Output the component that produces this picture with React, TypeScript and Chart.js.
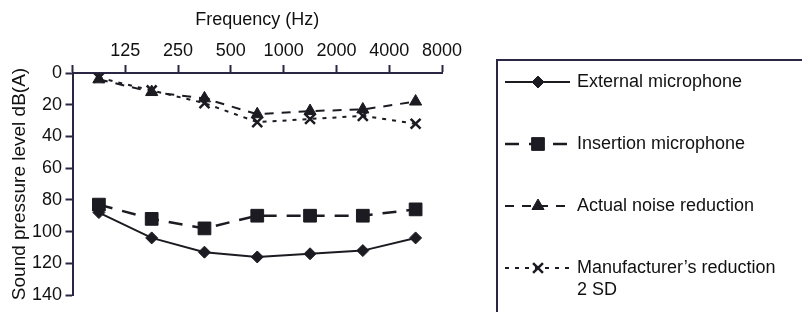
import React, { useEffect, useRef } from "react";
import { Chart, registerables } from "chart.js";
import { drawPoint } from "chart.js/helpers";

Chart.register(...registerables);

// ---- data ----
const xTickLabels = ["", "125", "250", "500", "1000", "2000", "4000", "8000"];
const seriesLabels = [
  ["External microphone"],
  ["Insertion microphone"],
  ["Actual noise reduction"],
  ["Manufacturer’s reduction", "2 SD"],
];
const externalMic = [88, 104, 113, 116, 114, 112, 104];
const insertionMic = [83, 92, 98, 90, 90, 90, 86];
const actualReduction = [4, 12, 16, 26, 24, 23, 18];
const manufacturerReduction = [3, 11, 19, 31, 29, 27, 32];
const yTicks = [0, 20, 40, 60, 80, 100, 120, 140];

const AXIS = "#2a2745";
const INK = "#1c1b22";
const FONT = '"Liberation Sans", Arial, Helvetica, sans-serif';

const toPoints = (arr: number[]) => arr.map((v, i) => ({ x: i + 0.5, y: v }));

const legendPlugin = {
  id: "boxLegend",
  afterDraw(chart: any) {
    const ctx = chart.ctx as CanvasRenderingContext2D;
    ctx.save();
    ctx.strokeStyle = AXIS;
    ctx.lineWidth = 2;
    ctx.beginPath();
    ctx.moveTo(497, 320);
    ctx.lineTo(497, 60);
    ctx.lineTo(810, 60);
    ctx.stroke();

    chart.data.datasets.forEach((ds: any, i: number) => {
      const y = 82 + i * 62;
      ctx.strokeStyle = ds.borderColor;
      ctx.fillStyle = ds.pointBackgroundColor;
      ctx.lineWidth = ds.borderWidth;
      ctx.setLineDash(ds.borderDash || []);
      ctx.beginPath();
      ctx.moveTo(505, y);
      ctx.lineTo(570, y);
      ctx.stroke();
      ctx.setLineDash([]);
      ctx.lineWidth = ds.pointBorderWidth;
      drawPoint(
        ctx,
        {
          pointStyle: ds.pointStyle,
          radius: ds.pointRadius,
          rotation: 0,
          borderWidth: ds.pointBorderWidth,
        } as any,
        538,
        y
      );
      ctx.fillStyle = "#111";
      ctx.font = `18px ${FONT}`;
      ctx.textBaseline = "middle";
      ctx.textAlign = "left";
      seriesLabels[i].forEach((line, j) => {
        ctx.fillText(line, 577, y + j * 22);
      });
    });
    ctx.restore();
  },
};

export default function App() {
  const ref = useRef<HTMLCanvasElement | null>(null);

  useEffect(() => {
    document.body.style.margin = "0";
    document.body.style.background = "#ffffff";
    if (!ref.current) return;
    Chart.defaults.font.family = FONT;
    Chart.defaults.color = "#111";

    const common = {
      borderColor: INK,
      pointBackgroundColor: INK,
      pointBorderColor: INK,
      tension: 0,
      fill: false,
    };

    const chart = new Chart(ref.current, {
      type: "line",
      data: {
        datasets: [
          {
            ...common,
            label: seriesLabels[0].join(" "),
            data: toPoints(externalMic),
            borderWidth: 2,
            pointStyle: "rectRot",
            pointRadius: 6,
            pointBorderWidth: 1,
          },
          {
            ...common,
            label: seriesLabels[1].join(" "),
            data: toPoints(insertionMic),
            borderWidth: 2.5,
            borderDash: [14, 10],
            pointStyle: "rect",
            pointRadius: 9,
            pointBorderWidth: 1,
          },
          {
            ...common,
            label: seriesLabels[2].join(" "),
            data: toPoints(actualReduction),
            borderWidth: 2,
            borderDash: [9, 8],
            pointStyle: "triangle",
            pointRadius: 7,
            pointBorderWidth: 1,
          },
          {
            ...common,
            label: seriesLabels[3].join(" "),
            data: toPoints(manufacturerReduction),
            borderWidth: 2,
            borderDash: [4, 6],
            pointStyle: "crossRot",
            pointRadius: 7,
            pointBorderWidth: 2.5,
          },
        ],
      },
      options: {
        responsive: false,
        animation: false,
        events: [],
        layout: { padding: { left: 0, top: 0, right: 360, bottom: 17 } },
        plugins: {
          legend: { display: false },
          tooltip: { enabled: false },
        },
        scales: {
          x: {
            type: "linear",
            position: "top",
            min: 0,
            max: xTickLabels.length - 1,
            afterBuildTicks: (scale: any) => {
              scale.ticks = xTickLabels.map((_, i) => ({ value: i }));
            },
            afterFit: (scale: any) => {
              scale.height = 73;
            },
            ticks: {
              autoSkip: false,
              maxRotation: 0,
              padding: 3,
              color: "#111",
              font: { size: 18 },
              callback: (v: any) => xTickLabels[v as number] ?? "",
            },
            grid: {
              drawOnChartArea: false,
              drawTicks: true,
              tickLength: 8,
              tickWidth: 2,
              tickColor: AXIS,
            },
            border: { display: true, color: AXIS, width: 2 },
            title: {
              display: true,
              text: "Frequency (Hz)",
              color: "#111",
              font: { size: 18 },
              padding: { top: 9, bottom: 0 },
            },
          },
          y: {
            type: "linear",
            reverse: true,
            min: yTicks[0],
            max: yTicks[yTicks.length - 1],
            afterBuildTicks: (scale: any) => {
              scale.ticks = yTicks.map((v) => ({ value: v }));
            },
            afterFit: (scale: any) => {
              scale.width = 72.5;
            },
            ticks: {
              padding: 3.5,
              color: "#111",
              font: { size: 18 },
            },
            grid: {
              drawOnChartArea: false,
              drawTicks: true,
              tickLength: 7,
              tickWidth: 2,
              tickColor: AXIS,
            },
            border: { display: true, color: AXIS, width: 2 },
            title: {
              display: true,
              text: "Sound pressure level dB(A)",
              color: "#111",
              font: { size: 19 },
              padding: { top: 8, bottom: 0 },
            },
          },
        },
      },
      plugins: [legendPlugin],
    } as any);

    return () => chart.destroy();
  }, []);

  return (
    <div style={{ position: "fixed", left: 0, top: 0, width: 802, height: 312 }}>
      <canvas ref={ref} width={802} height={312} />
    </div>
  );
}
